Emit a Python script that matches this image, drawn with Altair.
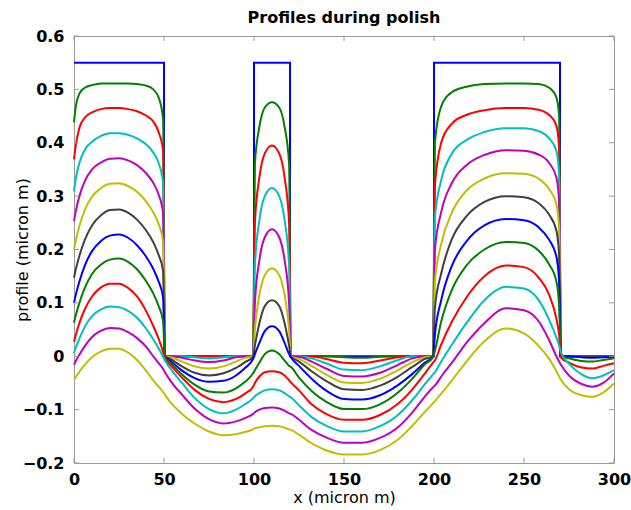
import altair as alt
import pandas as pd

# shared x grid (micron m)
X = [0, 1, 3, 6, 10, 15, 20, 25, 30, 35, 40, 44, 47, 49.5,
     50.5, 54, 60, 67, 75, 83, 90, 95, 99.5,
     100.5, 103, 106, 110, 114, 117, 119.5,
     120.5, 125, 132, 140, 150, 160, 170, 180, 188, 195, 199.5,
     200.5, 204, 210, 218, 228, 240, 250, 258, 264, 268, 269.5,
     270.5, 275, 282, 288, 294, 300]

# initial profile (step)
step_x = [0, 50, 50, 100, 100, 120, 120, 200, 200, 270, 270, 300]
step_y = [0.55, 0.55, 0, 0, 0.55, 0.55, 0, 0, 0.55, 0.55, 0, 0]

c01 = [.438, .468, .492, .503, .508, .511, .511, .511, .511, .510, .507, .500, .485, .445,
       0, 0, 0, 0, 0, 0, 0, 0, 0,
       .36, .43, .466, .476, .466, .43, .36,
       0, 0, 0, 0, -.002, -.003, -.001, 0, 0, 0, 0,
       .40, .468, .495, .505, .510, .511, .511, .510, .503, .485, .450,
       0, 0, 0, 0, 0, 0]
c02 = [.369, .395, .428, .447, .457, .463, .465, .465, .463, .459, .451, .440, .420, .385,
       0, 0, 0, 0, 0, 0, 0, 0, 0,
       .25, .335, .38, .395, .38, .335, .25,
       0, 0, 0, -.005, -.012, -.013, -.008, -.002, 0, 0, 0,
       .32, .40, .436, .452, .461, .465, .465, .462, .452, .432, .39,
       0, 0, 0, 0, 0, 0]
c03 = [.309, .333, .362, .387, .402, .413, .418, .418, .415, .408, .397, .382, .362, .325,
       0, 0, 0, -.002, -.004, -.002, 0, 0, 0,
       .17, .255, .30, .315, .30, .255, .17,
       0, 0, -.004, -.013, -.025, -.026, -.019, -.007, 0, 0, 0,
       .26, .33, .38, .405, .420, .427, .427, .422, .408, .385, .34,
       0, 0, 0, 0, 0, 0]
c04 = [.253, .272, .300, .328, .350, .363, .370, .371, .367, .358, .343, .325, .303, .268,
       0, 0, -.003, -.008, -.011, -.008, -.002, 0, 0,
       .10, .18, .223, .238, .223, .18, .10,
       0, -.001, -.010, -.023, -.037, -.038, -.031, -.016, -.004, 0, 0,
       .20, .27, .325, .358, .377, .386, .385, .378, .362, .335, .29,
       0, 0, 0, 0, 0, 0]
c05 = [.200, .217, .244, .274, .299, .315, .323, .324, .319, .308, .290, .270, .248, .215,
       0, -.002, -.010, -.019, -.023, -.019, -.010, -.003, 0,
       .05, .115, .152, .165, .152, .115, .05,
       0, -.005, -.018, -.034, -.049, -.050, -.042, -.026, -.011, -.002, 0,
       .14, .21, .27, .31, .333, .343, .342, .333, .313, .285, .24,
       0, 0, 0, 0, 0, 0]
c06 = [.147, .163, .188, .218, .245, .264, .274, .275, .269, .256, .236, .214, .190, .160,
       0, -.006, -.019, -.031, -.036, -.032, -.022, -.011, -.001,
       .02, .062, .094, .105, .094, .062, .02,
       0, -.010, -.028, -.046, -.062, -.063, -.055, -.038, -.020, -.005, 0,
       .09, .155, .22, .262, .289, .300, .298, .287, .265, .235, .19,
       0, 0, 0, 0, 0, 0]
c07 = [.100, .115, .140, .170, .197, .216, .226, .228, .222, .208, .187, .164, .140, .110,
       0, -.010, -.027, -.041, -.048, -.046, -.036, -.022, -.005,
       .004, .025, .047, .056, .047, .025, .004,
       -.002, -.018, -.042, -.064, -.080, -.081, -.073, -.054, -.033, -.012, -.001,
       .04, .105, .17, .215, .245, .257, .255, .242, .218, .187, .14,
       0, 0, -.002, -.003, -.002, -.001]
c08 = [.063, .077, .100, .128, .154, .172, .181, .183, .177, .163, .141, .118, .094, .065,
       -.002, -.014, -.034, -.053, -.066, -.068, -.060, -.048, -.032,
       -.026, -.012, .004, .011, .004, -.008, -.018,
       -.020, -.040, -.065, -.085, -.099, -.099, -.090, -.068, -.042, -.015, -.002,
       .01, .065, .125, .17, .20, .214, .212, .198, .172, .140, .095,
       0, -.004, -.009, -.010, -.007, -.004]
c09 = [.027, .040, .062, .088, .112, .129, .136, .136, .128, .112, .085, .057, .033, .008,
       -.004, -.018, -.040, -.063, -.080, -.086, -.080, -.070, -.057,
       -.050, -.038, -.030, -.028, -.030, -.036, -.045,
       -.049, -.064, -.090, -.108, -.119, -.119, -.110, -.089, -.062, -.032, -.012,
       -.008, .022, .065, .11, .150, .170, .167, .148, .115, .070, .040,
       -.002, -.012, -.021, -.023, -.018, -.013]
c10 = [.006, .016, .033, .055, .075, .088, .093, .092, .085, .072, .052, .032, .015, -.001,
       -.008, -.025, -.050, -.078, -.099, -.107, -.100, -.090, -.079,
       -.075, -.069, -.064, -.062, -.064, -.069, -.075,
       -.077, -.092, -.114, -.130, -.141, -.141, -.131, -.110, -.082, -.052, -.034,
       -.030, -.010, .022, .062, .105, .130, .127, .106, .068, .035, .020,
       .008, -.014, -.034, -.041, -.036, -.026]
c11 = [-.016, -.009, .003, .019, .036, .048, .053, .052, .045, .034, .018, .000, -.013, -.024,
       -.030, -.048, -.072, -.098, -.118, -.126, -.122, -.116, -.108,
       -.105, -.100, -.097, -.096, -.098, -.102, -.107,
       -.108, -.119, -.138, -.152, -.162, -.162, -.153, -.133, -.105, -.075, -.058,
       -.055, -.038, -.012, .025, .062, .090, .086, .066, .030, .000, -.010,
       -.016, -.036, -.052, -.057, -.050, -.032]
c12 = [-.044, -.039, -.029, -.016, -.002, .009, .014, .014, .007, -.007, -.027, -.045, -.057, -.067,
       -.072, -.088, -.108, -.126, -.141, -.148, -.146, -.142, -.137,
       -.135, -.133, -.131, -.130, -.131, -.134, -.137,
       -.138, -.147, -.163, -.176, -.184, -.184, -.176, -.156, -.130, -.104, -.088,
       -.084, -.070, -.045, -.010, .028, .052, .043, .020, -.005, -.028, -.038,
       -.044, -.062, -.073, -.076, -.068, -.051]

curves = [c01, c02, c03, c04, c05, c06, c07, c08, c09, c10, c11, c12]
names = ["c%02d" % (i + 1) for i in range(len(curves))]
colors = ["#008000", "#ff0000", "#00bfbf", "#bf00bf", "#bfbf00", "#404040",
          "#0000ff", "#008000", "#ff0000", "#00bfbf", "#bf00bf", "#bfbf00"]

x_ticks = [0, 50, 100, 150, 200, 250, 300]
y_ticks = [-0.2, -0.1, 0, 0.1, 0.2, 0.3, 0.4, 0.5, 0.6]

rows = []
for n, c in zip(names, curves):
    assert len(c) == len(X), (n, len(c))
    for xv, yv in zip(X, c):
        rows.append({"x": xv, "v": yv, "curve": n})
df = pd.DataFrame(rows)
step_df = pd.DataFrame({"x": step_x, "v": step_y, "i": list(range(len(step_x)))})
xt_df = pd.DataFrame({"t": x_ticks})
yt_df = pd.DataFrame({"t": y_ticks})

W, H = 540, 427
GRAY = "#9a9a9a"
FONT = "DejaVu Sans"

xscale = alt.Scale(domain=[0, 300], nice=False, zero=False)
yscale = alt.Scale(domain=[-0.2, 0.6], nice=False, zero=False)

xaxis = alt.Axis(values=x_ticks, format="d", title="x (micron m)", grid=False,
                 domain=False, ticks=False, tickSize=0, labelPadding=8, labelFlush=False,
                 labelFont=FONT, labelFontSize=16, labelFontWeight="bold", labelColor="black",
                 titleFont=FONT, titleFontSize=16, titleFontWeight="normal", titleColor="black",
                 titleX=W / 2, titleY=34, titleBaseline="middle")
yaxis = alt.Axis(values=y_ticks,
                 labelExpr="datum.value == 0 ? '0' : format(datum.value, '.1f')",
                 title="profile (micron m)", grid=False, domain=False, ticks=False,
                 tickSize=0, labelPadding=10, labelFlush=False,
                 labelFont=FONT, labelFontSize=16, labelFontWeight="bold", labelColor="black",
                 titleFont=FONT, titleFontSize=16, titleFontWeight="normal", titleColor="black",
                 titleX=-52, titleY=H / 2, titleBaseline="middle", titleAngle=270)

step = alt.Chart(step_df).mark_line(color="#0000ff", strokeWidth=2).encode(
    x=alt.X("x:Q", scale=xscale, axis=xaxis),
    y=alt.Y("v:Q", scale=yscale, axis=yaxis),
    order="i:Q",
)

lines = alt.Chart(df).mark_line(strokeWidth=2, interpolate="monotone").encode(
    x=alt.X("x:Q", scale=xscale),
    y=alt.Y("v:Q", scale=yscale),
    color=alt.Color("curve:N", scale=alt.Scale(domain=names, range=colors), legend=None),
    detail="curve:N",
)

tb = alt.Chart(xt_df).mark_rule(color=GRAY, strokeWidth=1).encode(
    x=alt.X("t:Q", scale=xscale), y=alt.value(H - 5), y2=alt.value(H))
tt = alt.Chart(xt_df).mark_rule(color=GRAY, strokeWidth=1).encode(
    x=alt.X("t:Q", scale=xscale), y=alt.value(0), y2=alt.value(5))
tl = alt.Chart(yt_df).mark_rule(color=GRAY, strokeWidth=1).encode(
    y=alt.Y("t:Q", scale=yscale), x=alt.value(0), x2=alt.value(5))
tr = alt.Chart(yt_df).mark_rule(color=GRAY, strokeWidth=1).encode(
    y=alt.Y("t:Q", scale=yscale), x=alt.value(W - 5), x2=alt.value(W))

chart = alt.layer(step, lines, tb, tt, tl, tr).properties(
    width=W, height=H,
    background="white",
    title=alt.TitleParams("Profiles during polish", font=FONT, fontSize=16,
                          fontWeight="bold", color="black", offset=-11,
                          baseline="alphabetic", frame="group", anchor="middle"),
    autosize=alt.AutoSizeParams(type="none"),
    padding={"left": 74, "top": 36, "right": 17, "bottom": 47},
).configure_view(stroke=GRAY, strokeWidth=1)

chart.save("out.html", embed_options={"renderer": "svg", "actions": False})
